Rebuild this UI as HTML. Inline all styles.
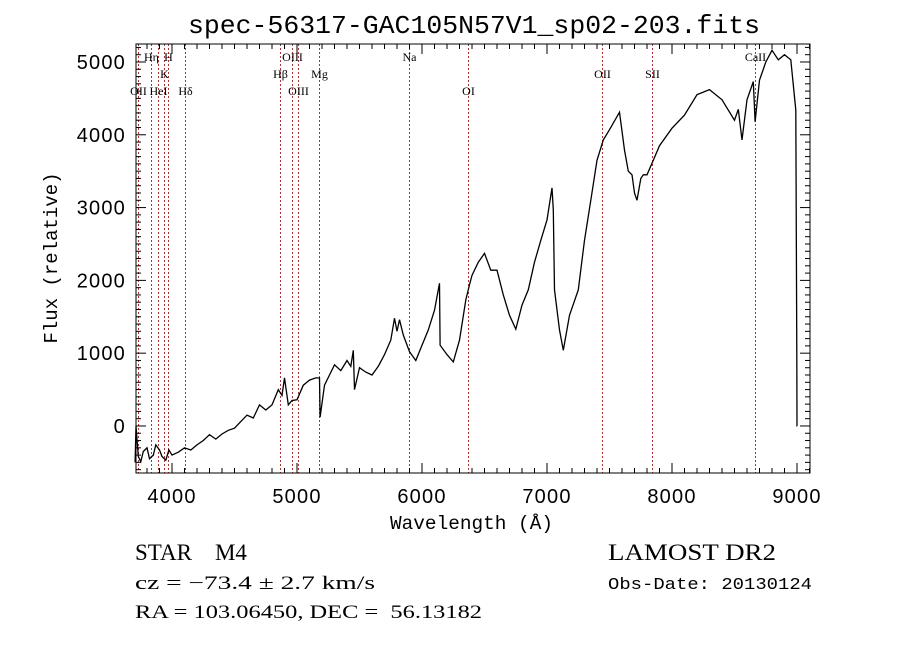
<!DOCTYPE html>
<html><head><meta charset="utf-8">
<style>
html,body{margin:0;padding:0;background:#fff;}
svg{display:block;}
.tk{font-family:"Liberation Sans",sans-serif;font-size:20px;letter-spacing:1.2px;}
.mono{font-family:"Liberation Mono",monospace;}
.ser{font-family:"Liberation Serif",serif;}
</style></head>
<body>
<svg id="chart" width="900" height="649" viewBox="0 0 900 649" xmlns="http://www.w3.org/2000/svg">
<rect width="900" height="649" fill="#fff"/>
<text class="mono" x="188" y="33" font-size="26" textLength="572" lengthAdjust="spacingAndGlyphs">spec-56317-GAC105N57V1_sp02-203.fits</text>
<g id="lines"></g>
<g id="ticks"></g>
<path id="spec" fill="none" stroke="#000" stroke-width="1.3"/>
<rect x="136" y="44" width="674" height="429" fill="none" stroke="#000" stroke-width="1"/>
<text class="mono" x="390" y="529" font-size="19" textLength="163" lengthAdjust="spacingAndGlyphs">Wavelength (Å)</text>
<text class="mono" font-size="19" text-anchor="middle" transform="translate(57,258) rotate(-90)">Flux (relative)</text>
<text class="ser" x="135" y="560" font-size="23">STAR&#160;&#160;&#160;&#160;M4</text>
<text class="ser" x="135" y="589" font-size="19" textLength="240" lengthAdjust="spacingAndGlyphs">cz = −73.4 ± 2.7 km/s</text>
<text class="ser" x="135" y="618" font-size="19" textLength="347" lengthAdjust="spacingAndGlyphs">RA = 103.06450, DEC =&#160;&#160;56.13182</text>
<text class="ser" x="608" y="560" font-size="23" textLength="168" lengthAdjust="spacingAndGlyphs">LAMOST DR2</text>
<text class="mono" x="608" y="589" font-size="17" textLength="204" lengthAdjust="spacingAndGlyphs">Obs-Date: 20130124</text>
</svg>
<script>
const wavelengths=[3705,3712,3730,3750,3770,3800,3820,3850,3870,3900,3920,3950,3975,4000,4050,4100,4150,4200,4250,4300,4350,4400,4450,4500,4550,4600,4650,4700,4750,4800,4850,4880,4900,4930,4960,5000,5050,5100,5150,5180,5185,5220,5260,5300,5350,5400,5430,5450,5460,5500,5550,5600,5650,5700,5750,5780,5800,5820,5850,5900,5950,6000,6050,6100,6140,6145,6200,6250,6300,6350,6380,6400,6450,6500,6550,6600,6650,6700,6750,6800,6850,6900,6950,7000,7040,7050,7060,7100,7130,7180,7250,7300,7350,7400,7450,7500,7580,7620,7650,7680,7700,7720,7750,7770,7800,7850,7900,8000,8100,8200,8300,8400,8500,8530,8560,8600,8650,8665,8700,8750,8800,8850,8900,8950,8990,8998,9000,9001];
const fluxes=[-500,0,-420,-490,-350,-300,-450,-400,-260,-330,-420,-470,-330,-400,-360,-300,-330,-260,-200,-120,-180,-110,-60,-30,60,150,110,290,220,290,500,420,660,290,350,360,560,630,660,660,120,560,700,840,760,900,820,1040,500,800,740,700,820,980,1180,1480,1300,1460,1250,1020,900,1110,1320,1590,1960,1110,980,880,1180,1730,1940,2070,2250,2370,2140,2140,1800,1520,1330,1660,1870,2250,2550,2830,3270,2970,1870,1320,1040,1520,1870,2550,3100,3650,3930,4070,4310,3790,3500,3450,3200,3100,3400,3450,3450,3650,3850,4090,4270,4550,4620,4480,4200,4350,3930,4480,4730,4180,4750,5000,5160,5030,5100,5030,4340,1000,0,0];
const markerWaves=[3727,3835,3889,3934,3969,4102,4861,4959,5007,5175,5893,6368,7440,7840,8662];
const markerNames=["OII","Hη","HeI","K","H","Hδ","Hβ","OIII","OIII","Mg","Na","OI","OII","SII","CaII"];
const markerRows=[2,0,2,1,0,2,1,0,2,1,0,2,0,0,0];
const markerRowsFixed=[2,0,2,1,0,2,1,0,2,1,0,2,1,1,0];
const xTicks=[4000,5000,6000,7000,8000,9000];
const yTicks=[0,1000,2000,3000,4000,5000];
const NS="http://www.w3.org/2000/svg";
const X0=136,X1=810,Y0=44,Y1=473;
const xMin=3712,xMax=9104,yMin=-646,yMax=5247;
function xs(w){return X0+(w-xMin)/(xMax-xMin)*(X1-X0);}
function ys(f){return Y1-(f-yMin)/(yMax-yMin)*(Y1-Y0);}
function mk(t,a){const e=document.createElementNS(NS,t);for(const k in a)e.setAttribute(k,a[k]);return e;}
let d="";
for(let i=0;i<wavelengths.length;i++){d+=(i?"L":"M")+xs(wavelengths[i]).toFixed(1)+","+ys(fluxes[i]).toFixed(1);}
document.getElementById("spec").setAttribute("d",d);
const lg=document.getElementById("lines");
const rowY=[61,78,95];
for(let i=0;i<markerWaves.length;i++){
  const x=Math.round(xs(markerWaves[i]))+0.5;
  const l=mk("line",{x1:x,x2:x,y1:Y0,y2:Y1,stroke:"#b03030","stroke-width":1,"stroke-dasharray":"2,2"});
  
  
  lg.appendChild(l);
  const t=mk("text",{x:x,y:rowY[markerRowsFixed[i]],"font-size":12,"text-anchor":"middle","font-family":"Liberation Serif,serif"});
  t.textContent=markerNames[i];
  
  
  lg.appendChild(t);
}
const tg=document.getElementById("ticks");
for(let w=3800;w<=9100;w+=100){
  const x=xs(w);const maj=w%1000===0;const L=maj?10:5;
  tg.appendChild(mk("line",{x1:x,x2:x,y1:Y1,y2:Y1-L,stroke:"#000"}));
  tg.appendChild(mk("line",{x1:x,x2:x,y1:Y0,y2:Y0+L,stroke:"#000"}));
}
for(let f=-600;f<=5200;f+=100){
  const y=ys(f);const maj=f%1000===0;const L=maj?10:5;
  tg.appendChild(mk("line",{x1:X0,x2:X0+L,y1:y,y2:y,stroke:"#000"}));
  tg.appendChild(mk("line",{x1:X1,x2:X1-L,y1:y,y2:y,stroke:"#000"}));
}
xTicks.forEach(v=>{
  const t=mk("text",{x:xs(v),y:503,"text-anchor":"middle",class:"tk"});
  t.textContent=v;
  
  
  tg.appendChild(t);
});
yTicks.forEach(v=>{
  const t=mk("text",{x:126,y:ys(v)+7,"text-anchor":"end",class:"tk"});
  t.textContent=v;
  
  
  tg.appendChild(t);
});
</script>
</body></html>
